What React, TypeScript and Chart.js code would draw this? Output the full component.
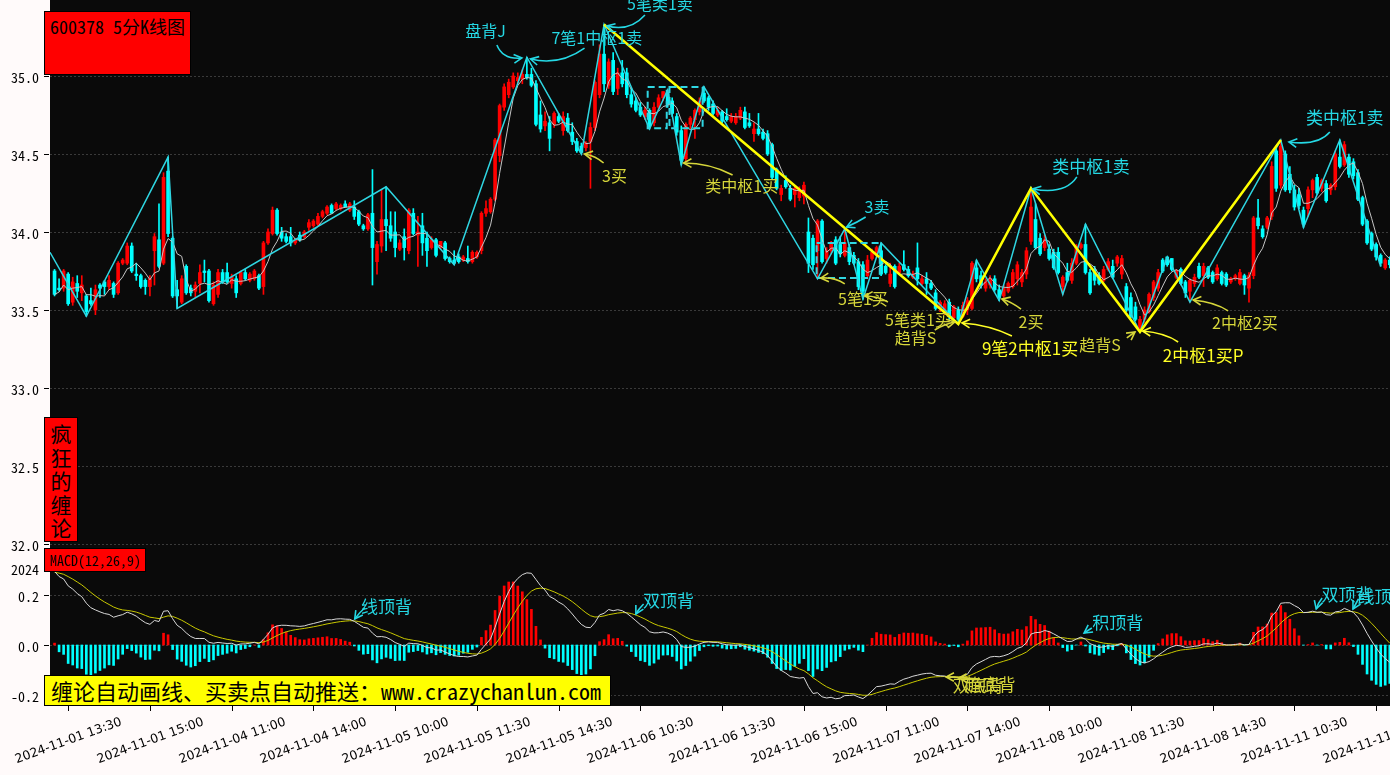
import React, { useEffect, useRef } from "react";
import { Chart, registerables } from "chart.js";

Chart.register(...registerables);

// ---------------- data ----------------
const TICK_INDEX = [3, 21, 39, 57, 75, 93, 111, 129, 147, 165, 183, 201, 219, 237, 255, 273, 291];
const TICK_LABELS = [
  "2024-11-01 13:30", "2024-11-01 15:00", "2024-11-04 11:00", "2024-11-04 14:00",
  "2024-11-05 10:00", "2024-11-05 11:30", "2024-11-05 14:30", "2024-11-06 10:30",
  "2024-11-06 13:30", "2024-11-06 15:00", "2024-11-07 11:00", "2024-11-07 14:00",
  "2024-11-08 10:00", "2024-11-08 11:30", "2024-11-08 14:30", "2024-11-11 10:30",
  "2024-11-11 13:30",
];

const OPEN = [
  33.75,33.64,33.64,33.73,33.55,33.67,33.61,33.59,33.56,33.50,
  33.66,33.68,33.65,33.67,33.61,33.80,33.80,33.91,33.73,33.72,
  33.69,33.65,33.88,33.95,33.80,34.39,33.96,33.63,33.55,33.78,
  33.64,33.62,33.67,33.75,33.75,33.54,33.60,33.74,33.74,33.67,
  33.70,33.67,33.74,33.69,33.70,33.72,33.65,33.93,33.99,34.14,
  34.00,33.97,33.97,33.93,33.98,33.97,34.03,34.04,34.05,34.10,
  34.12,34.17,34.15,34.15,34.18,34.14,34.16,34.13,34.04,34.02,
  34.12,33.81,33.91,34.08,34.04,34.00,33.89,33.97,33.88,34.12,
  33.98,34.04,33.96,33.90,33.95,33.90,33.93,33.83,33.82,33.84,
  33.82,33.83,33.81,33.84,33.88,34.12,34.13,34.21,34.49,34.80,
  34.88,34.93,34.97,34.98,35.01,35.01,34.95,34.75,34.68,34.70,
  34.69,34.74,34.65,34.73,34.64,34.58,34.55,34.54,34.58,34.67,
  34.88,35.14,34.94,35.10,34.92,35.02,35.02,34.88,34.84,34.80,
  34.74,34.78,34.70,34.80,34.86,34.89,34.84,34.74,34.65,34.47,
  34.69,34.72,34.77,34.89,34.86,34.82,34.75,34.77,34.74,34.71,
  34.70,34.73,34.77,34.70,34.63,34.66,34.64,34.63,34.56,34.40,
  34.24,34.33,34.28,34.24,34.22,34.23,34.00,33.96,33.88,34.07,
  33.83,33.88,33.95,33.92,33.85,33.90,33.85,33.81,33.79,33.72,
  33.83,33.85,33.88,33.78,33.67,33.78,33.74,33.79,33.76,33.71,
  33.77,33.67,33.70,33.67,33.61,33.51,33.49,33.55,33.45,33.50,
  33.46,33.50,33.51,33.77,33.72,33.64,33.66,33.70,33.63,33.59,
  33.62,33.65,33.70,33.68,33.73,33.94,34.08,33.96,33.90,33.89,
  33.87,33.87,33.65,33.74,33.69,33.80,33.90,33.92,33.74,33.76,
  33.72,33.69,33.76,33.78,33.80,33.73,33.65,33.58,33.52,33.38,
  33.44,33.49,33.58,33.64,33.82,33.84,33.83,33.71,33.76,33.68,
  33.62,33.67,33.78,33.72,33.77,33.74,33.70,33.74,33.73,33.68,
  33.70,33.67,33.72,33.64,33.72,34.09,34.02,34.03,34.10,34.52,
  34.30,34.50,34.37,34.27,34.24,34.14,34.15,34.27,34.35,34.28,
  34.31,34.27,34.29,34.48,34.43,34.48,34.45,34.38,34.22,34.07,
  33.99,33.92,33.85,33.77,33.82,
];
const HIGH = [
  33.76,33.70,33.76,33.74,33.71,33.72,33.72,33.60,33.64,33.66,
  33.67,33.69,33.72,33.68,33.81,33.83,33.93,33.93,33.80,33.73,
  33.70,33.72,33.99,34.18,34.38,34.48,33.97,33.69,33.72,33.79,
  33.66,33.68,33.79,33.82,33.76,33.68,33.76,33.76,33.80,33.73,
  33.72,33.75,33.76,33.74,33.76,33.73,33.94,34.02,34.16,34.15,
  34.03,33.99,34.03,33.96,34.00,34.01,34.08,34.08,34.12,34.14,
  34.17,34.18,34.19,34.18,34.20,34.19,34.20,34.14,34.05,34.12,
  34.40,33.94,34.27,34.29,34.13,34.13,33.95,34.02,34.15,34.15,
  34.10,34.12,34.00,33.97,33.96,33.94,33.94,33.84,33.88,33.86,
  33.85,33.91,33.88,33.88,34.13,34.20,34.22,34.60,34.82,34.95,
  34.98,35.02,35.02,35.04,35.12,35.05,34.97,34.84,34.77,34.74,
  34.77,34.76,34.77,34.76,34.70,34.60,34.57,34.58,34.70,34.97,
  35.20,35.33,35.11,35.15,35.05,35.10,35.05,34.92,34.86,34.83,
  34.80,34.79,34.83,34.88,34.90,34.91,34.86,34.76,34.68,34.70,
  34.74,34.79,34.86,34.93,34.87,34.84,34.80,34.78,34.79,34.76,
  34.76,34.80,34.80,34.76,34.70,34.76,34.66,34.65,34.57,34.41,
  34.30,34.36,34.30,34.29,34.29,34.32,34.09,33.98,34.08,34.08,
  33.90,33.94,33.97,33.97,34.02,33.92,33.87,33.83,33.81,33.85,
  33.89,33.91,33.93,33.79,33.80,33.79,33.80,33.88,33.78,33.75,
  33.93,33.72,33.74,33.69,33.63,33.56,33.56,33.57,33.53,33.52,
  33.55,33.58,33.81,33.82,33.75,33.70,33.72,33.72,33.66,33.66,
  33.68,33.76,33.81,33.76,33.90,34.28,34.18,33.99,33.98,33.92,
  33.89,33.90,33.72,33.80,33.83,33.92,33.93,34.05,33.76,33.78,
  33.74,33.78,33.83,33.82,33.85,33.85,33.67,33.61,33.55,33.46,
  33.52,33.61,33.69,33.76,33.83,33.84,33.83,33.76,33.77,33.69,
  33.70,33.73,33.80,33.80,33.78,33.75,33.79,33.75,33.74,33.71,
  33.73,33.76,33.73,33.74,34.10,34.21,34.04,34.10,34.45,34.55,
  34.59,34.52,34.42,34.30,34.28,34.16,34.29,34.34,34.37,34.34,
  34.33,34.31,34.52,34.59,34.58,34.50,34.47,34.40,34.23,34.08,
  34.00,33.93,33.86,33.83,33.84,
];
const LOW = [
  33.59,33.62,33.62,33.53,33.53,33.58,33.56,33.46,33.53,33.47,
  33.58,33.60,33.63,33.58,33.60,33.79,33.79,33.74,33.69,33.64,
  33.60,33.59,33.66,33.77,33.79,33.97,33.58,33.51,33.54,33.60,
  33.59,33.58,33.61,33.68,33.55,33.53,33.58,33.67,33.67,33.64,
  33.58,33.66,33.69,33.68,33.69,33.63,33.60,33.92,33.98,33.98,
  33.94,33.93,33.91,33.92,33.94,33.96,34.01,34.03,34.04,34.09,
  34.11,34.12,34.14,34.14,34.16,34.13,34.08,34.04,34.01,34.01,
  33.66,33.73,33.87,33.88,33.94,33.84,33.88,33.82,33.86,33.98,
  33.78,33.85,33.78,33.89,33.84,33.89,33.82,33.80,33.79,33.80,
  33.81,33.80,33.80,33.83,33.86,34.10,34.12,34.20,34.45,34.78,
  34.86,34.92,34.95,34.95,34.98,34.93,34.68,34.64,34.65,34.52,
  34.67,34.70,34.62,34.64,34.56,34.51,34.50,34.52,34.28,34.65,
  34.86,34.90,34.92,34.88,34.88,34.93,34.86,34.80,34.77,34.74,
  34.72,34.66,34.68,34.78,34.84,34.80,34.74,34.62,34.43,34.45,
  34.66,34.60,34.75,34.83,34.78,34.75,34.74,34.70,34.71,34.70,
  34.69,34.72,34.66,34.67,34.58,34.62,34.59,34.49,34.34,34.27,
  34.20,34.28,34.20,34.16,34.20,34.18,33.74,33.76,33.70,33.80,
  33.80,33.86,33.79,33.84,33.84,33.79,33.79,33.63,33.57,33.70,
  33.82,33.84,33.72,33.73,33.65,33.64,33.73,33.75,33.71,33.70,
  33.66,33.66,33.60,33.63,33.50,33.49,33.47,33.44,33.43,33.41,
  33.45,33.47,33.50,33.68,33.64,33.62,33.64,33.62,33.56,33.58,
  33.61,33.64,33.66,33.65,33.70,33.92,33.89,33.85,33.88,33.82,
  33.76,33.73,33.60,33.68,33.67,33.79,33.89,33.73,33.60,33.66,
  33.66,33.68,33.75,33.70,33.78,33.70,33.49,33.45,33.43,33.36,
  33.42,33.48,33.56,33.62,33.74,33.78,33.75,33.70,33.66,33.58,
  33.55,33.65,33.70,33.65,33.70,33.67,33.69,33.66,33.65,33.67,
  33.69,33.66,33.60,33.55,33.70,34.02,33.96,34.02,34.08,34.26,
  34.28,34.26,34.25,34.14,34.15,34.03,34.10,34.22,34.24,34.26,
  34.19,34.24,34.27,34.41,34.42,34.35,34.34,34.20,34.04,33.92,
  33.88,33.82,33.78,33.76,33.77,
];
const CLOSE = [
  33.60,33.63,33.75,33.54,33.68,33.62,33.66,33.49,33.54,33.63,
  33.64,33.65,33.69,33.60,33.80,33.82,33.91,33.75,33.72,33.65,
  33.65,33.70,33.97,33.78,34.35,33.99,33.59,33.59,33.70,33.61,
  33.61,33.66,33.74,33.74,33.56,33.66,33.74,33.68,33.68,33.71,
  33.61,33.74,33.70,33.73,33.75,33.64,33.93,34.00,34.14,33.99,
  33.96,33.94,33.93,33.95,33.95,34.00,34.06,34.07,34.10,34.13,
  34.16,34.12,34.18,34.17,34.16,34.18,34.10,34.05,34.02,34.11,
  33.90,33.92,34.08,34.04,33.96,33.90,33.93,33.90,34.14,33.99,
  34.00,33.93,33.88,33.95,33.85,33.94,33.83,33.81,33.80,33.81,
  33.84,33.81,33.87,33.87,34.12,34.15,34.21,34.59,34.81,34.93,
  34.96,35.00,34.99,35.01,34.99,34.94,34.69,34.66,34.71,34.60,
  34.76,34.71,34.74,34.65,34.58,34.52,34.51,34.57,34.67,34.96,
  35.14,34.95,35.09,34.90,35.02,34.95,34.88,34.82,34.78,34.75,
  34.78,34.68,34.80,34.86,34.90,34.82,34.76,34.64,34.46,34.69,
  34.73,34.78,34.84,34.84,34.80,34.76,34.78,34.71,34.72,34.74,
  34.74,34.78,34.67,34.68,34.66,34.63,34.60,34.50,34.35,34.28,
  34.28,34.29,34.21,34.28,34.26,34.30,33.80,33.79,34.07,33.81,
  33.88,33.93,33.80,33.86,33.93,33.81,33.80,33.65,33.62,33.82,
  33.87,33.90,33.73,33.74,33.73,33.65,33.78,33.76,33.72,33.73,
  33.70,33.70,33.67,33.64,33.51,33.55,33.54,33.46,33.52,33.44,
  33.53,33.56,33.80,33.70,33.66,33.68,33.70,33.63,33.58,33.64,
  33.67,33.74,33.79,33.74,33.88,34.16,33.90,33.86,33.95,33.83,
  33.77,33.74,33.71,33.69,33.80,33.91,33.92,33.74,33.61,33.69,
  33.67,33.76,33.81,33.71,33.84,33.83,33.50,33.46,33.44,33.44,
  33.50,33.60,33.68,33.74,33.75,33.79,33.76,33.75,33.67,33.61,
  33.69,33.71,33.71,33.78,33.71,33.68,33.77,33.67,33.66,33.70,
  33.72,33.74,33.66,33.72,34.09,34.04,33.97,34.09,34.42,34.28,
  34.55,34.27,34.27,34.16,34.17,34.05,34.27,34.33,34.25,34.33,
  34.20,34.30,34.50,34.42,34.56,34.37,34.36,34.21,34.05,33.93,
  33.89,33.84,33.80,33.82,33.79,
];

// 笔 (stroke) turning points and 线段 (segment) turning points
const BI_INDEX = [-1, 7, 25, 27, 73, 88, 104, 116, 121, 131, 135, 138, 143, 168, 174, 178, 182, 199, 203, 208, 215, 222, 227, 239, 245, 250, 270, 275, 283, 292];
const BI_PRICE = [33.87, 33.46, 34.48, 33.51, 34.29, 33.79, 35.12, 34.50, 35.33, 34.66, 34.91, 34.43, 34.93, 33.70, 34.02, 33.57, 33.93, 33.41, 33.82, 33.56, 34.28, 33.60, 34.05, 33.36, 33.84, 33.55, 34.59, 34.03, 34.59, 33.78];
const SEG_INDEX = [121, 199, 215, 239, 270];
const SEG_PRICE = [35.33, 33.41, 34.28, 33.36, 34.59];

// 中枢 boxes
const ZS_START = [130.6, 135.4, 167.8];
const ZS_END = [134.8, 142.7, 181.7];
const ZS_LOW = [34.665, 34.665, 33.705];
const ZS_HIGH = [34.93, 34.93, 33.93];

const PRICE_TICKS = [35.0, 34.5, 34.0, 33.5, 33.0, 32.5, 32.0];
const MACD_TICKS = [0.308, 0.2, 0.0, -0.2];
const MACD_TICK_LABELS = ["2024", "0.2", "0.0", "-0.2"];
const MACD_GRID = [0.2, 0.0, -0.2];

// MACD state carried in from bars before the first visible one
const EMA12_START = 33.62;
const EMA26_START = 33.3;
const DEA_START = 0.29;

// ---------------- layout / style ----------------
const X_MIN = -1;
const X_MAX = 294.05;
const P_MIN = 31.968;
const P_MAX = 35.487;
const M_MIN = -0.244;
const M_MAX = 0.372;

const UP = "#ff0000";
const DOWN = "#00ffff";
const CY = "#25d8e4";
const YL = "#d6d63a";
const YLB = "#ffff26";
const SANS = "'Noto Sans CJK SC', 'Noto Sans', sans-serif";
const MONO = "'Noto Sans Mono CJK SC', 'DejaVu Sans Mono', 'Noto Sans CJK SC', monospace";

type Arrow = number[];
type Ann = { text: string; color: string; size: number; at: number[]; arrows: Arrow[] };

const MAIN_ANN: Ann[] = [
  { text: "盘背J", color: CY, size: 16, at: [94.9, 35.288], arrows: [[97.4, 35.199, 98.7, 35.103, 102.9, 35.115]] },
  { text: "7笔1中枢1卖", color: CY, size: 16, at: [119.4, 35.244], arrows: [[116.7, 35.179, 111.2, 35.064, 104.8, 35.109]] },
  { text: "5笔类1卖", color: CY, size: 16, at: [133.3, 35.462], arrows: [[130.0, 35.391, 126.7, 35.282, 121.6, 35.321]] },
  { text: "3买", color: YL, size: 16, at: [123.3, 34.359], arrows: [[120.9, 34.442, 119.2, 34.487, 116.7, 34.5]] },
  { text: "类中枢1买", color: YL, size: 16, at: [151.3, 34.295], arrows: [[149.3, 34.365, 144.3, 34.442, 138.5, 34.442]] },
  { text: "3卖", color: CY, size: 16, at: [181.1, 34.16], arrows: [[178.6, 34.096, 176.9, 34.064, 174.4, 34.032]] },
  { text: "5笔1买", color: YL, size: 16, at: [178.0, 33.571], arrows: [[174.0, 33.667, 171.8, 33.712, 168.7, 33.705], [183.5, 33.551, 181.3, 33.59, 178.4, 33.59]] },
  { text: "5笔类1买", color: YL, size: 16, at: [190.1, 33.436], arrows: [] },
  { text: "趋背S", color: YL, size: 16, at: [189.6, 33.321], arrows: [[193.8, 33.372, 196.0, 33.41, 198.2, 33.423]] },
  { text: "9笔2中枢1买", color: YLB, size: 17, at: [214.8, 33.25], arrows: [[210.8, 33.333, 206.0, 33.404, 199.8, 33.417]] },
  { text: "2买", color: YL, size: 16, at: [215.0, 33.423], arrows: [[212.8, 33.506, 210.8, 33.551, 208.6, 33.571]] },
  { text: "趋背S", color: YL, size: 16, at: [230.2, 33.276], arrows: [[236.1, 33.321, 237.0, 33.34, 237.9, 33.359]] },
  { text: "2中枢1买P", color: YLB, size: 17, at: [252.9, 33.205], arrows: [[247.4, 33.295, 244.5, 33.353, 239.6, 33.365]] },
  { text: "类中枢1卖", color: CY, size: 17, at: [228.2, 34.417], arrows: [[225.1, 34.353, 222.5, 34.237, 215.4, 34.276]] },
  { text: "2中枢2买", color: YL, size: 16, at: [262.1, 33.417], arrows: [[258.4, 33.494, 255.5, 33.551, 250.7, 33.564]] },
  { text: "类中枢1卖", color: CY, size: 17, at: [284.1, 34.731], arrows: [[280.8, 34.641, 278.2, 34.551, 271.8, 34.577]] },
];

const MACD_ANN: Ann[] = [
  { text: "线顶背", color: CY, size: 17, at: [73.1, 0.152], arrows: [[68.3, 0.148, 67.2, 0.132, 66.1, 0.104]] },
  { text: "双顶背", color: CY, size: 17, at: [135.2, 0.176], arrows: [[129.7, 0.164, 128.6, 0.144, 128.0, 0.124]] },
  { text: "双底背", color: YL, size: 17, at: [203.4, -0.164], arrows: [[201.1, -0.132, 198.7, -0.128, 196.3, -0.128]] },
  { text: "趋底背", color: YL, size: 17, at: [206.0, -0.16], arrows: [[203.7, -0.136, 201.4, -0.132, 199.1, -0.132]] },
  { text: "积顶背", color: CY, size: 17, at: [234.1, 0.088], arrows: [[228.4, 0.068, 227.5, 0.058, 226.7, 0.048]] },
  { text: "双顶背", color: CY, size: 17, at: [284.6, 0.2], arrows: [[279.1, 0.188, 278.2, 0.168, 277.8, 0.144]] },
  { text: "线顶背", color: CY, size: 17, at: [292.5, 0.192], arrows: [[287.1, 0.184, 286.5, 0.164, 285.9, 0.144]] },
];

// ---------------- derived series ----------------
const MA5 = CLOSE.map((_, i) => {
  const s = CLOSE.slice(Math.max(0, i - 4), i + 1);
  return s.reduce((a, b) => a + b, 0) / s.length;
});

function computeMacd() {
  let e12 = EMA12_START, e26 = EMA26_START, dea = DEA_START;
  const dif: number[] = [], deaArr: number[] = [], hist: number[] = [];
  for (const c of CLOSE) {
    e12 += (2 / 13) * (c - e12);
    e26 += (2 / 27) * (c - e26);
    const d = e12 - e26;
    dea += 0.2 * (d - dea);
    dif.push(d);
    deaArr.push(dea);
    hist.push(2 * (d - dea));
  }
  return { dif, dea: deaArr, hist };
}

// ---------------- drawing helpers ----------------
function drawArrow(ctx: CanvasRenderingContext2D, x0: number, y0: number, cx: number, cy: number, x1: number, y1: number, color: string) {
  ctx.save();
  ctx.strokeStyle = color;
  ctx.lineWidth = 1.6;
  ctx.beginPath();
  ctx.moveTo(x0, y0);
  ctx.quadraticCurveTo(cx, cy, x1, y1);
  ctx.stroke();
  const ang = Math.atan2(y1 - cy, x1 - cx);
  const L = 9, spread = 0.5;
  ctx.beginPath();
  ctx.moveTo(x1 - L * Math.cos(ang - spread), y1 - L * Math.sin(ang - spread));
  ctx.lineTo(x1, y1);
  ctx.lineTo(x1 - L * Math.cos(ang + spread), y1 - L * Math.sin(ang + spread));
  ctx.stroke();
  ctx.restore();
}

function drawAnnotations(chart: any, anns: Ann[]) {
  const { ctx, scales } = chart;
  const xs = scales.x, ys = scales.y;
  ctx.save();
  for (const a of anns) {
    for (const ar of a.arrows) {
      drawArrow(ctx,
        xs.getPixelForValue(ar[0]), ys.getPixelForValue(ar[1]),
        xs.getPixelForValue(ar[2]), ys.getPixelForValue(ar[3]),
        xs.getPixelForValue(ar[4]), ys.getPixelForValue(ar[5]), a.color);
    }
    ctx.fillStyle = a.color;
    ctx.font = `${a.size}px ${SANS}`;
    ctx.textAlign = "center";
    ctx.textBaseline = "middle";
    ctx.fillText(a.text, xs.getPixelForValue(a.at[0]), ys.getPixelForValue(a.at[1]));
  }
  ctx.restore();
}

function drawYAxis(chart: any, vals: number[], labels: string[], grid: number[]) {
  const { ctx, chartArea: a, scales } = chart;
  const ys = scales.y;
  ctx.save();
  ctx.strokeStyle = "#3a3a3a";
  ctx.lineWidth = 1;
  ctx.setLineDash([2, 2]);
  for (const v of grid) {
    const py = Math.round(ys.getPixelForValue(v)) + 0.5;
    ctx.beginPath();
    ctx.moveTo(a.left, py);
    ctx.lineTo(a.right, py);
    ctx.stroke();
  }
  ctx.setLineDash([]);
  ctx.strokeStyle = "#000";
  ctx.fillStyle = "#000";
  ctx.font = `14px ${MONO}`;
  ctx.textAlign = "right";
  ctx.textBaseline = "middle";
  vals.forEach((v, k) => {
    const py = Math.round(ys.getPixelForValue(v)) + 0.5;
    ctx.beginPath();
    ctx.moveTo(a.left - 6, py);
    ctx.lineTo(a.left - 1, py);
    ctx.stroke();
    ctx.fillText(labels[k], a.left - 11, py + 1);
  });
  ctx.restore();
}

function fillPlot(chart: any, top?: number) {
  const { ctx, chartArea: a } = chart;
  ctx.save();
  ctx.fillStyle = "#0a0a0a";
  const t = top === undefined ? a.top : top;
  ctx.fillRect(a.left, t, a.right - a.left, a.bottom - t);
  ctx.restore();
}

const mainPlugin = {
  id: "mainDeco",
  beforeDatasetsDraw(chart: any) {
    fillPlot(chart);
    drawYAxis(chart, PRICE_TICKS, PRICE_TICKS.map((v) => v.toFixed(1)), PRICE_TICKS);
  },
  afterDatasetsDraw(chart: any) {
    const { ctx, scales } = chart;
    const xs = scales.x, ys = scales.y;
    ctx.save();
    ctx.strokeStyle = "#2fd6e2";
    ctx.lineWidth = 2;
    ctx.setLineDash([7, 4]);
    ZS_START.forEach((s, k) => {
      const x0 = xs.getPixelForValue(s), x1 = xs.getPixelForValue(ZS_END[k]);
      const y0 = ys.getPixelForValue(ZS_HIGH[k]), y1 = ys.getPixelForValue(ZS_LOW[k]);
      ctx.strokeRect(x0, y0, x1 - x0, y1 - y0);
    });
    ctx.restore();
    drawAnnotations(chart, MAIN_ANN);
  },
};

const macdPlugin = {
  id: "macdDeco",
  beforeDatasetsDraw(chart: any) {
    fillPlot(chart, 0);
    drawYAxis(chart, MACD_TICKS, MACD_TICK_LABELS, MACD_GRID);
  },
  afterDatasetsDraw(chart: any) {
    drawAnnotations(chart, MACD_ANN);
    const { ctx, chartArea: a, scales } = chart;
    const xs = scales.x;
    ctx.save();
    ctx.strokeStyle = "#000";
    ctx.fillStyle = "#000";
    ctx.lineWidth = 1;
    ctx.font = `12.5px 'DejaVu Sans', sans-serif`;
    const ang = (20 * Math.PI) / 180;
    TICK_INDEX.forEach((idx, k) => {
      const px = Math.round(xs.getPixelForValue(idx)) + 0.5;
      ctx.beginPath();
      ctx.moveTo(px, a.bottom);
      ctx.lineTo(px, a.bottom + 5);
      ctx.stroke();
      const label = TICK_LABELS[k];
      const w = ctx.measureText(label).width;
      const h = 12;
      const H = w * Math.sin(ang) + h * Math.cos(ang);
      const cy = a.bottom + 10 + H / 2;
      ctx.save();
      ctx.translate(px, cy);
      ctx.rotate(-ang);
      ctx.textAlign = "center";
      ctx.textBaseline = "middle";
      ctx.fillText(label, 0, 0);
      ctx.restore();
    });
    ctx.restore();
  },
};

export default function App() {
  const mainRef = useRef<HTMLCanvasElement>(null);
  const macdRef = useRef<HTMLCanvasElement>(null);

  useEffect(() => {
    const idx = CLOSE.map((_, i) => i);
    const bodies = idx.map((i) => {
      let lo = Math.min(OPEN[i], CLOSE[i]);
      let hi = Math.max(OPEN[i], CLOSE[i]);
      if (hi - lo < 0.006) {
        const m = (hi + lo) / 2;
        lo = m - 0.003;
        hi = m + 0.003;
      }
      return { x: i, y: [lo, hi] };
    });
    const colors = idx.map((i) => (CLOSE[i] >= OPEN[i] ? UP : DOWN));
    const wicks = idx.map((i) => ({ x: i, y: [LOW[i], HIGH[i]] }));

    const main = new Chart(mainRef.current as HTMLCanvasElement, {
      type: "bar",
      data: {
        datasets: [
          { type: "line", data: SEG_INDEX.map((x, k) => ({ x, y: SEG_PRICE[k] })), borderColor: "#ffff00", borderWidth: 2.5, pointRadius: 0, order: 0 } as any,
          { type: "line", data: BI_INDEX.map((x, k) => ({ x, y: BI_PRICE[k] })), borderColor: "#2fd6e2", borderWidth: 1.5, pointRadius: 0, order: 1 } as any,
          { type: "line", data: idx.map((i) => ({ x: i, y: MA5[i] })), borderColor: "#c4c4c4", borderWidth: 1, pointRadius: 0, order: 2 } as any,
          { type: "bar", data: bodies, backgroundColor: colors, barThickness: 3, grouped: false, order: 3 } as any,
          { type: "bar", data: wicks, backgroundColor: colors, barThickness: 1, grouped: false, order: 4 } as any,
        ],
      },
      options: {
        responsive: false,
        animation: false,
        events: [],
        layout: { padding: { left: 50, right: 0, top: 0, bottom: 11 } },
        plugins: { legend: { display: false }, tooltip: { enabled: false } },
        scales: {
          x: { type: "linear", min: X_MIN, max: X_MAX, display: false, offset: false },
          y: { type: "linear", min: P_MIN, max: P_MAX, display: false },
        },
      } as any,
      plugins: [mainPlugin],
    });

    const m = computeMacd();
    const histColors = m.hist.map((v) => (v >= 0 ? UP : DOWN));
    const macd = new Chart(macdRef.current as HTMLCanvasElement, {
      type: "bar",
      data: {
        datasets: [
          { type: "line", data: idx.map((i) => ({ x: i, y: m.dif[i] })), borderColor: "#d8d8d8", borderWidth: 1, pointRadius: 0, order: 0 } as any,
          { type: "line", data: idx.map((i) => ({ x: i, y: m.dea[i] })), borderColor: "#c8c800", borderWidth: 1, pointRadius: 0, order: 1 } as any,
          { type: "bar", data: idx.map((i) => ({ x: i, y: m.hist[i] })), backgroundColor: histColors, barThickness: 2, grouped: false, order: 2 } as any,
        ],
      },
      options: {
        responsive: false,
        animation: false,
        events: [],
        layout: { padding: { left: 50, right: 0, top: 3, bottom: 69 } },
        plugins: { legend: { display: false }, tooltip: { enabled: false } },
        scales: {
          x: { type: "linear", min: X_MIN, max: X_MAX, display: false, offset: false },
          y: { type: "linear", min: M_MIN, max: M_MAX, display: false },
        },
      } as any,
      plugins: [macdPlugin],
    });

    return () => {
      main.destroy();
      macd.destroy();
    };
  }, []);

  const boxBase: React.CSSProperties = {
    position: "absolute",
    boxSizing: "border-box",
    border: "1px solid #000",
    color: "#000",
    whiteSpace: "nowrap",
    overflow: "hidden",
  };

  return (
    <div style={{ position: "absolute", left: 0, top: 0, width: 1390, height: 775, background: "#fffafa", overflow: "hidden" }}>
      <canvas ref={mainRef} width={1390} height={560} style={{ position: "absolute", left: 0, top: 0, width: 1390, height: 560 }} />
      <canvas ref={macdRef} width={1390} height={226} style={{ position: "absolute", left: 0, top: 549, width: 1390, height: 226 }} />
      <div style={{ ...boxBase, left: 44, top: 11, width: 147, height: 64, background: "#ff0000" }}>
        <div style={{ position: "absolute", left: 5, top: 4, fontFamily: MONO, fontSize: 18, lineHeight: "21px" }}>600378 5分K线图</div>
      </div>
      <div style={{ ...boxBase, left: 44, top: 417, width: 34, height: 125, background: "#ff0000", whiteSpace: "normal" }}>
        {["疯", "狂", "的", "缠", "论"].map((ch, k) => (
          <div key={k} style={{ position: "absolute", left: 0, width: 32, top: 4 + k * 23.5, height: 23.5, fontFamily: SANS, fontSize: 21, lineHeight: "23.5px", textAlign: "center" }}>{ch}</div>
        ))}
      </div>
      <div style={{ ...boxBase, left: 44, top: 548, width: 102, height: 24, background: "#ff0000" }}>
        <div style={{ position: "absolute", left: 5, top: 0, fontFamily: MONO, fontSize: 14, lineHeight: "22px" }}>MACD(12,26,9)</div>
      </div>
      <div style={{ ...boxBase, left: 44, top: 675, width: 567, height: 31, background: "#ffff00" }}>
        <div style={{ position: "absolute", left: 6, top: 0, fontFamily: MONO, fontSize: 22, lineHeight: "29px" }}>缠论自动画线、买卖点自动推送：www.crazychanlun.com</div>
      </div>
    </div>
  );
}
